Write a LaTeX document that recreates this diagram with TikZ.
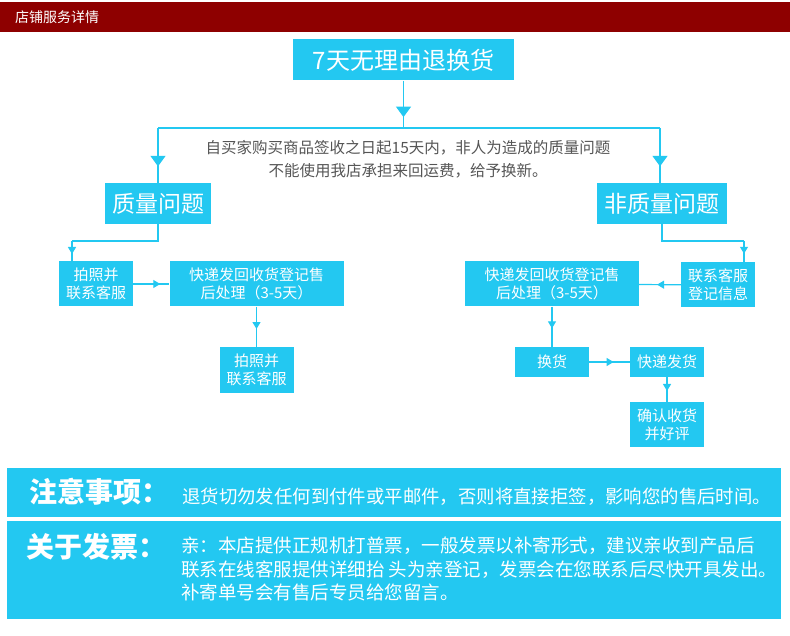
\documentclass[tikz,border=0pt]{standalone}
\usepackage{fontspec}
\setmainfont{Noto Sans CJK SC}
\usetikzlibrary{arrows.meta,decorations.markings}
\definecolor{skyblue}{HTML}{23C8F1}
\definecolor{darkred}{HTML}{8E0000}
\definecolor{notegray}{HTML}{555555}

\begin{document}
\begin{tikzpicture}[x=1pt, y=-1pt,
    every node/.style={font=\fontsize{15}{18}\selectfont},
    box/.style={fill=skyblue, text=white, inner sep=0pt, align=center},
    headbox/.style={box, minimum height=41pt, font=\fontsize{23}{26}\selectfont},
    smallbox/.style={box, minimum width=74pt, minimum height=45pt},
    flatbox/.style={box, minimum width=74pt, minimum height=30pt},
    widebox/.style={box, minimum width=174pt, minimum height=45pt},
    panel/.style={fill=skyblue, inner sep=0pt, minimum width=774pt},
    link/.style={color=skyblue, line width=1.2pt},
    midarrow/.style={link, postaction={decorate}, decoration={markings,
        mark=at position #1 with {\arrow{Triangle[width=8pt, length=7pt]}}}},
    bigarrow/.style={link, postaction={decorate}, decoration={markings,
        mark=at position #1 with {\arrow{Triangle[width=15pt, length=10.5pt]}}}}
]
    \useasboundingbox (0,0) rectangle (790,636);

    % 顶部标题栏
    \fill[darkred] (0,2) rectangle (790,32);
    \node[anchor=west, inner sep=0pt, text=white, font=\fontsize{14}{16}\selectfont] (bar) at (15,17) {店铺服务详情};

    % 总标题和分叉
    \node[headbox, minimum width=221pt, font=\fontsize{24}{26}\selectfont] (main) at (403.5,60) {7天无理由退换货};
    \coordinate (fork) at (403.5,128);
    \coordinate (forkl) at (158,128);
    \coordinate (forkr) at (660,128);
    \node[headbox, minimum width=106pt] (qual) at (158,203.5) {质量问题};
    \node[headbox, minimum width=130pt] (nonqual) at (662,203.5) {非质量问题};
    \node[text=notegray, align=center, font=\fontsize{15.5}{23}\selectfont] (rule) at (408,159.5)
        {自买家购买商品签收之日起15天内，非人为造成的质量问题\\不能使用我店承担来回运费，给予换新。};

    \draw[bigarrow=0.77] (main) -- (fork);
    \draw[link] (forkl) -- (forkr);
    \draw[bigarrow=0.7] (forkl) -- (qual.north);
    \draw[bigarrow=0.7] (forkr) -- (forkr |- nonqual.north);

    % 质量问题
    \node[smallbox] (photo) at (96,284) {拍照并\\联系客服};
    \node[widebox] (ship) at (256.5,284) {快递发回收货登记售\\后处理（3-5天）};
    \node[smallbox] (photo2) at (256.5,370) {拍照并\\联系客服};
    \coordinate (ql) at (72,241);
    \draw[link] (qual.south) |- (ql);
    \draw[midarrow=0.64] (ql) -- (ql |- photo.north);
    \draw[midarrow=0.75] (photo) -- (ship);
    \draw[midarrow=0.55] (ship) -- (photo2);

    % 非质量问题
    \node[smallbox] (contact) at (718,285) {联系客服\\登记信息};
    \node[widebox] (ship2) at (552,284) {快递发回收货登记售\\后处理（3-5天）};
    \node[flatbox] (swap) at (552,362) {换货};
    \node[flatbox] (send) at (667,362) {快递发货};
    \node[smallbox] (confirm) at (667,424.5) {确认收货\\并好评};
    \coordinate (nr) at (744,241);
    \draw[link] (nonqual.south) |- (nr);
    \draw[midarrow=0.6] (nr) -- (nr |- contact.north);
    \draw[midarrow=0.57] (contact) -- (ship2);
    \draw[midarrow=0.54] (ship2) -- (swap);
    \draw[midarrow=0.6] (swap) -- (send);
    \draw[midarrow=0.56] (send) -- (confirm);

    % 底部说明
    \node[panel, minimum height=49pt] (notice) at (394,492.5) {};
    \node[panel, minimum height=98pt] (invoice) at (394,570) {};
    \node[anchor=west, inner sep=0pt, text=white, font=\fontsize{28}{30}\selectfont\bfseries] (noticehead) at (29,492) {注意事项：};
    \node[anchor=west, inner sep=0pt, text=white, font=\fontsize{18.4}{20}\selectfont] (noticetext) at (182,497)
        {退货切勿发任何到付件或平邮件，否则将直接拒签，影响您的售后时间。};
    \node[anchor=west, inner sep=0pt, text=white, font=\fontsize{28}{30}\selectfont\bfseries] (invoicehead) at (26,547) {关于发票：};
    \node[anchor=west, inner sep=0pt, text=white, align=left, font=\fontsize{18.5}{23.5}\selectfont] (invoicetext) at (181,569)
        {亲：本店提供正规机打普票，一般发票以补寄形式，建议亲收到产品后\\
         联系在线客服提供详细抬 头为亲登记，发票会在您联系后尽快开具发出。\\
         补寄单号会有售后专员给您留言。};
\end{tikzpicture}
\end{document}
